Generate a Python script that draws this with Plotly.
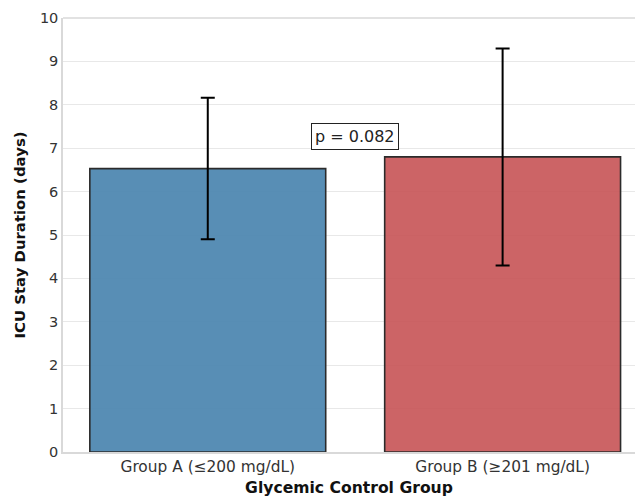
import plotly.graph_objects as go

categories = ["Group A (≤200 mg/dL)", "Group B (≥201 mg/dL)"]
means = [6.53, 6.80]
errors = [1.63, 2.50]
colors = ["rgba(74,132,175,0.92)", "rgba(197,78,81,0.88)"]
p_text = "p = 0.082"
p_y = 7.28

fig = go.Figure()
fig.add_trace(go.Bar(
    x=[0, 1], y=means, width=0.8,
    marker=dict(color=colors, line=dict(color="#2b2b2b", width=1.6)),
    error_y=dict(type="data", array=errors, visible=True, color="black", thickness=2, width=7),
    showlegend=False,
))
fig.add_annotation(x=0.5, y=p_y, text=p_text, showarrow=False,
                   font=dict(family="DejaVu Sans", size=16, color="#222"),
                   bordercolor="#222", borderwidth=1, borderpad=3, bgcolor="white")

fig.update_layout(
    width=635, height=497,
    margin=dict(l=63, r=0, t=18, b=45),
    paper_bgcolor="white", plot_bgcolor="white",
    font=dict(family="DejaVu Sans", size=14, color="#333"),
    xaxis=dict(range=[-0.491, 1.449], tickvals=[0, 1], ticktext=categories,
               showgrid=False, zeroline=False, showline=True, linecolor="#d9d9d9", linewidth=1.5,
               ticks="", tickfont=dict(size=15.4, color="#333"),
               title=dict(text="<b>Glycemic Control Group</b>", font=dict(size=15.6, color="#111"), standoff=8),
               mirror=False),
    yaxis=dict(range=[0, 10], dtick=1, showgrid=True, gridcolor="#e8e8e8", gridwidth=1,
               zeroline=False, showline=True, linecolor="#d9d9d9", linewidth=1.5,
               ticks="", tickfont=dict(size=14.5, color="#333"),
               title=dict(text="<b>ICU Stay Duration (days)</b>", font=dict(size=14.9, color="#111"), standoff=11)),
)
fig.add_shape(type="line", xref="paper", yref="paper", x0=0, x1=1, y0=1, y1=1,
              line=dict(color="#d9d9d9", width=1.5))

fig.write_html("out.html")
